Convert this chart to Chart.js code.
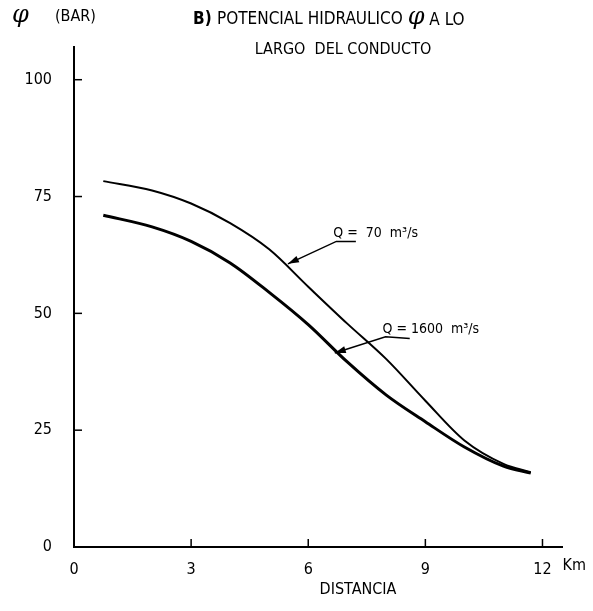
<!DOCTYPE html>
<html>
<head>
<meta charset="utf-8">
<script src="https://cdn.jsdelivr.net/npm/chart.js@4"></script>
<style>
  html, body { margin: 0; padding: 0; background: #fff; }
  #wrap { width: 593px; height: 611px; }
</style>
</head>
<body>
<div id="wrap"><canvas id="chart" width="593" height="611"></canvas></div>
<script>
// distancia a lo largo del conducto (km)
const distanceKm = [0.75, 2, 3, 4, 5, 6, 7, 8, 9, 10, 11, 11.7];
// potencial hidraulico (bar)
const q70Values = [78.3, 76.3, 73.5, 69.3, 63.7, 55.7, 47.8, 40.2, 31.3, 22.8, 17.8, 16.0];
const q1600Values = [71.0, 68.5, 65.4, 60.8, 54.5, 47.6, 39.6, 32.5, 26.8, 21.4, 17.3, 15.8];
const xTicks = [0, 3, 6, 9, 12];
const yTicks = [0, 25, 50, 75, 100];

// leader lines: [tip on curve, elbow, end of underline] in km / bar
const q70Leader = [[5.48, 60.6], [6.72, 65.4], [7.22, 65.4]];
const q1600Leader = [[6.68, 41.5], [7.98, 45.0], [8.6, 44.6]];

const FONT = "'Liberation Sans Narrow', 'DejaVu Sans Condensed', sans-serif";

const extras = {
  id: "extras",
  afterDraw(chart) {
    const ctx = chart.ctx;
    const xs = chart.scales.x;
    const ys = chart.scales.y;
    ctx.save();
    ctx.strokeStyle = "#000";
    ctx.fillStyle = "#000";
    ctx.lineWidth = 1.5;

    // inner tick marks
    yTicks.slice(1).forEach(v => {
      const py = ys.getPixelForValue(v);
      ctx.beginPath();
      ctx.moveTo(xs.left, py);
      ctx.lineTo(xs.left + 8, py);
      ctx.stroke();
    });
    xTicks.slice(1).forEach(v => {
      const px = xs.getPixelForValue(v);
      ctx.beginPath();
      ctx.moveTo(px, ys.bottom);
      ctx.lineTo(px, ys.bottom - 8);
      ctx.stroke();
    });

    // leader lines with arrow heads
    const leader = (pts, text) => {
      const p = pts.map(([x, y]) => [xs.getPixelForValue(x), ys.getPixelForValue(y)]);
      ctx.lineWidth = 1.5;
      ctx.beginPath();
      ctx.moveTo(p[0][0], p[0][1]);
      p.slice(1).forEach(q => ctx.lineTo(q[0], q[1]));
      ctx.stroke();
      const ang = Math.atan2(p[1][1] - p[0][1], p[1][0] - p[0][0]);
      ctx.beginPath();
      ctx.moveTo(p[0][0], p[0][1]);
      ctx.lineTo(p[0][0] + 11 * Math.cos(ang) - 3.5 * Math.sin(ang), p[0][1] + 11 * Math.sin(ang) + 3.5 * Math.cos(ang));
      ctx.lineTo(p[0][0] + 11 * Math.cos(ang) + 3.5 * Math.sin(ang), p[0][1] + 11 * Math.sin(ang) - 3.5 * Math.cos(ang));
      ctx.closePath();
      ctx.fill();
      ctx.font = "14px " + FONT;
      ctx.textAlign = "left";
      ctx.textBaseline = "alphabetic";
      ctx.fillText(text, p[1][0] - 3, p[1][1] - 4);
    };
    leader(q70Leader, "Q =  70  m³/s");
    leader(q1600Leader, "Q = 1600  m³/s");

    // title
    ctx.textBaseline = "middle";
    const part1 = "POTENCIAL HIDRAULICO ";
    const part2 = " A LO";
    let x0 = 193;
    ctx.textAlign = "left";
    ctx.font = "bold 17px " + FONT;
    ctx.fillText("B)", x0, 20);
    x0 += ctx.measureText("B) ").width;
    ctx.font = "17px " + FONT;
    ctx.fillText(part1, x0, 20);
    x0 += ctx.measureText(part1).width;
    ctx.font = "italic 24px 'DejaVu Serif', serif";
    ctx.fillText("φ", x0, 18);
    x0 += ctx.measureText("φ").width;
    ctx.font = "17px " + FONT;
    ctx.fillText(part2, x0, 21);
    ctx.textAlign = "center";
    ctx.font = "16px " + FONT;
    ctx.fillText("LARGO  DEL CONDUCTO", 343, 50);

    // y unit
    ctx.textAlign = "left";
    ctx.font = "italic 24px 'DejaVu Serif', serif";
    ctx.fillText("φ", 12, 16);
    ctx.font = "16px " + FONT;
    ctx.fillText("(BAR)", 55, 17);

    // x unit and title
    ctx.font = "16px " + FONT;
    ctx.fillText("Km", xs.getPixelForValue(12) + 20, 566);
    ctx.textAlign = "center";
    ctx.fillText("DISTANCIA", 358, 590);
    ctx.restore();
  }
};

new Chart(document.getElementById("chart"), {
  type: "line",
  data: {
    datasets: [
      {
        label: "Q = 70 m³/s",
        data: distanceKm.map((x, i) => ({ x, y: q70Values[i] })),
        borderColor: "#000",
        borderWidth: 2,
        pointRadius: 0,
        cubicInterpolationMode: "monotone",
        fill: false
      },
      {
        label: "Q = 1600 m³/s",
        data: distanceKm.map((x, i) => ({ x, y: q1600Values[i] })),
        borderColor: "#000",
        borderWidth: 3,
        pointRadius: 0,
        cubicInterpolationMode: "monotone",
        fill: false
      }
    ]
  },
  options: {
    responsive: false,
    animation: false,
    layout: { padding: { top: 47, right: 31, left: 0, bottom: 0 } },
    plugins: {
      legend: { display: false },
      title: { display: false },
      tooltip: { enabled: false }
    },
    scales: {
      x: {
        type: "linear",
        min: 0,
        max: 12.5,
        afterBuildTicks: s => { s.ticks = xTicks.map(v => ({ value: v })); },
        afterFit: s => { s.height = 64; },
        grid: { display: false },
        border: { display: true, color: "#000", width: 2 },
        ticks: { color: "#000", padding: 5, maxRotation: 0, font: { family: FONT, size: 16 } }
      },
      y: {
        min: 0,
        max: 107,
        afterBuildTicks: s => { s.ticks = yTicks.map(v => ({ value: v })); },
        afterFit: s => { s.width = 74; },
        grid: { display: false },
        border: { display: true, color: "#000", width: 2 },
        ticks: { color: "#000", padding: 14, font: { family: FONT, size: 16 } }
      }
    }
  },
  plugins: [extras]
});
</script>
</body>
</html>
